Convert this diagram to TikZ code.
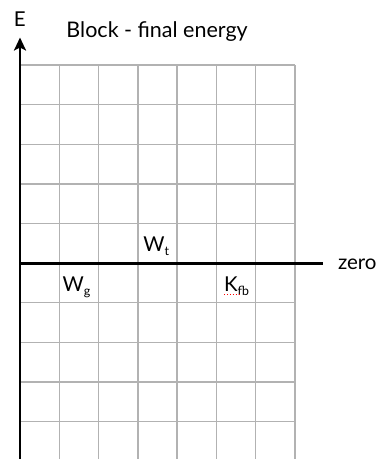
\documentclass[tikz,border=0pt]{standalone}
\usepackage{fontspec}
\setmainfont{Lato}
\usetikzlibrary{arrows.meta}
\tikzset{
  gridline/.style={draw=black!30, line width=1.4pt},
  axisline/.style={draw=black, line width=2.5pt},
  lbl/.style={anchor=base west, inner sep=0pt, outer sep=0pt, font=\fontsize{20.5}{20.5}\selectfont},
  spell/.style={draw=red, line width=0.9pt, dotted}
}
\newcommand{\sbs}[1]{\raisebox{-0.4ex}{\fontsize{12.5}{12.5}\selectfont #1}}
\begin{document}
\begin{tikzpicture}[x=1pt,y=-1pt]
\useasboundingbox (0,0) rectangle (381,459);
% grid
\foreach \i in {1,...,7} {
  \draw[gridline] ({20+39.29*\i},65) -- ({20+39.29*\i},459);
}
\foreach \j in {0,...,9} {
  \draw[gridline] (20,{65+39.6*\j}) -- (295,{65+39.6*\j});
}
% axes
\coordinate (ybot) at (20,459);
\coordinate (ytop) at (20,37.5);
\coordinate (xleft) at (20,263.3);
\coordinate (xright) at (323,263.3);
\draw[axisline] (xleft) -- (xright);
\draw[axisline, -{Stealth[length=13pt,width=12pt,inset=3pt]}] (ybot) -- (ytop);
% labels
\node[anchor=base, inner sep=0pt, font=\fontsize{20.5}{20.5}\selectfont] (E) at (19.7,26.7) {E};
\node[lbl, font=\fontsize{21.5}{21.5}\selectfont] (title) at (66.5,37.7) {Block - final energy};
\node[lbl, font=\fontsize{20.5}{20.5}\selectfont] (zero) at (338,269) {zero};
\node[lbl] (wt) at (143.3,251.7) {W\sbs{t}};
\node[lbl] (wg) at (62.7,291) {W\sbs{g}};
\node[lbl] (kfb) at (224,291.7) {K\sbs{fb}};
\coordinate (ul1) at ([yshift=-2.5pt]kfb.base west);
\coordinate (ul2) at (240,0);
\draw[spell] (ul1) -- (ul2 |- ul1);
\end{tikzpicture}
\end{document}
